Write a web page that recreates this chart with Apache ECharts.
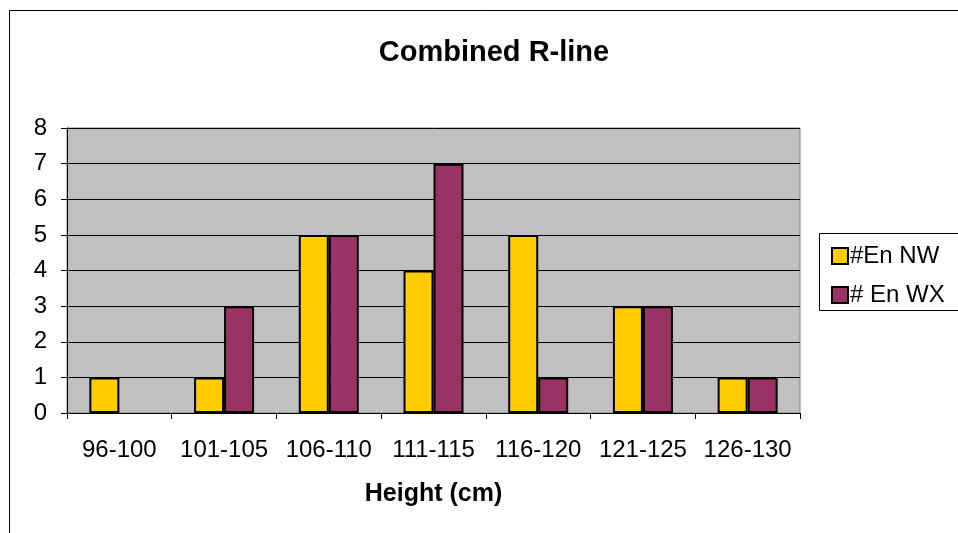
<!DOCTYPE html>
<html><head><meta charset="utf-8">
<script src="https://cdn.jsdelivr.net/npm/echarts@6/dist/echarts.min.js"></script>
<style>html,body{margin:0;padding:0;background:#fff}#c{width:958px;height:533px}</style>
</head><body><div id="c"></div>
<script>
const categories = ['96-100','101-105','106-110','111-115','116-120','121-125','126-130'];
const seriesNW = [1,1,5,4,5,3,1];
const seriesWX = [null,3,5,7,1,3,1];
const seriesNames = ['#En NW','# En WX'];
const chart = echarts.init(document.getElementById('c'));
const font = 'Arial, "Liberation Sans", sans-serif';
chart.setOption({
  animation:false,
  backgroundColor:'#fff',
  title:{text:'Combined R-line',left:489,textAlign:'center',top:33,textStyle:{fontFamily:font,fontSize:29,fontWeight:'bold',color:'#000'}},
  grid:{left:67,top:128,right:158,bottom:120,show:true,backgroundColor:'#C0C0C0',borderColor:'#808080',borderWidth:1},
  graphic:[
    {type:'rect',shape:{x:9.5,y:10.5,width:1000,height:1000},style:{fill:'none',stroke:'#000',lineWidth:1},z:-1},
    {type:'rect',shape:{x:819.5,y:233.5,width:200,height:77},style:{fill:'#fff',stroke:'#000',lineWidth:1},z:1}
  ],
  legend:{orient:'vertical',left:826,top:239,itemWidth:16,itemHeight:16,itemGap:15,z:5,
    textStyle:{fontFamily:font,fontSize:24,color:'#000',padding:[0,0,0,-3]},
    data:[{name:seriesNames[0],icon:'rect'},{name:seriesNames[1],icon:'rect'}]},
  xAxis:{type:'category',data:categories,boundaryGap:true,
    axisLine:{lineStyle:{color:'#000',width:1}},
    axisTick:{show:true,length:6,lineStyle:{color:'#000'}},
    axisLabel:{interval:0,hideOverlap:false,fontFamily:font,fontSize:24,color:'#000',margin:25},
    name:'Height (cm)',nameLocation:'middle',nameGap:69,
    nameTextStyle:{fontFamily:font,fontSize:25,fontWeight:'bold',color:'#000'}},
  yAxis:{type:'value',min:0,max:8,interval:1,
    axisLine:{show:true,lineStyle:{color:'#000',width:1}},
    axisTick:{show:true,length:6,inside:false,lineStyle:{color:'#000'}},
    axisLabel:{fontFamily:font,fontSize:24,color:'#000',margin:20},
    splitLine:{show:true,lineStyle:{color:'#000',width:1}}},
  series:[
    {name:seriesNames[0],type:'bar',data:seriesNW,barWidth:30,barGap:'0%',
     itemStyle:{color:'#FFCC00',borderColor:'#000',borderWidth:2}},
    {name:seriesNames[1],type:'bar',data:seriesWX,barWidth:30,barGap:'0%',
     itemStyle:{color:'#993366',borderColor:'#000',borderWidth:2}}
  ]
});
</script></body></html>
